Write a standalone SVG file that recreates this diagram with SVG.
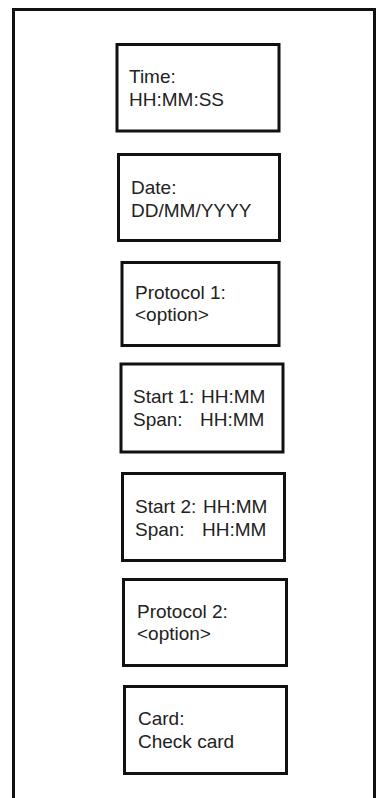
<svg xmlns="http://www.w3.org/2000/svg" width="382" height="798" viewBox="0 0 382 798">
<style>
.box{fill:#fff;stroke:#111;stroke-width:3}
.t{font-family:"Liberation Sans",Arial,sans-serif;font-size:19px;fill:#222}
</style>
<rect x="0" y="0" width="382" height="798" fill="#fff"/>
<g id="frame"><path d="M13.5,820 V9.5 H374.5 V820" fill="none" stroke="#111" stroke-width="3"/></g>
<g id="connectors"></g>
<g id="time"><rect class="box" x="117" y="44.5" width="162" height="86.5"/>
<text class="t" x="129" y="83">Time:</text><text class="t" x="129" y="106">HH:MM:SS</text></g>
<g id="date"><rect class="box" x="118.5" y="154.5" width="161" height="86"/>
<text class="t" x="131" y="194">Date:</text><text class="t" x="131" y="217">DD/MM/YYYY</text></g>
<g id="protocol1"><rect class="box" x="122" y="262.5" width="157" height="83"/>
<text class="t" x="135" y="299">Protocol 1:</text><text class="t" x="135" y="321">&lt;option&gt;</text></g>
<g id="start1"><rect class="box" x="121" y="364" width="162" height="88"/>
<text class="t" x="133" y="403">Start 1: <tspan x="201">HH:MM</tspan></text><text class="t" x="133" y="426">Span: <tspan x="200">HH:MM</tspan></text></g>
<g id="start2"><rect class="box" x="122.5" y="473.5" width="162" height="87"/>
<text class="t" x="135" y="513">Start 2: <tspan x="203">HH:MM</tspan></text><text class="t" x="135" y="536">Span: <tspan x="202">HH:MM</tspan></text></g>
<g id="protocol2"><rect class="box" x="123.5" y="579.5" width="163" height="86"/>
<text class="t" x="137" y="618">Protocol 2:</text><text class="t" x="137" y="640">&lt;option&gt;</text></g>
<g id="card"><rect class="box" x="124.5" y="686.5" width="162" height="87"/>
<text class="t" x="138" y="725">Card:</text><text class="t" x="138" y="748">Check card</text></g>
</svg>
